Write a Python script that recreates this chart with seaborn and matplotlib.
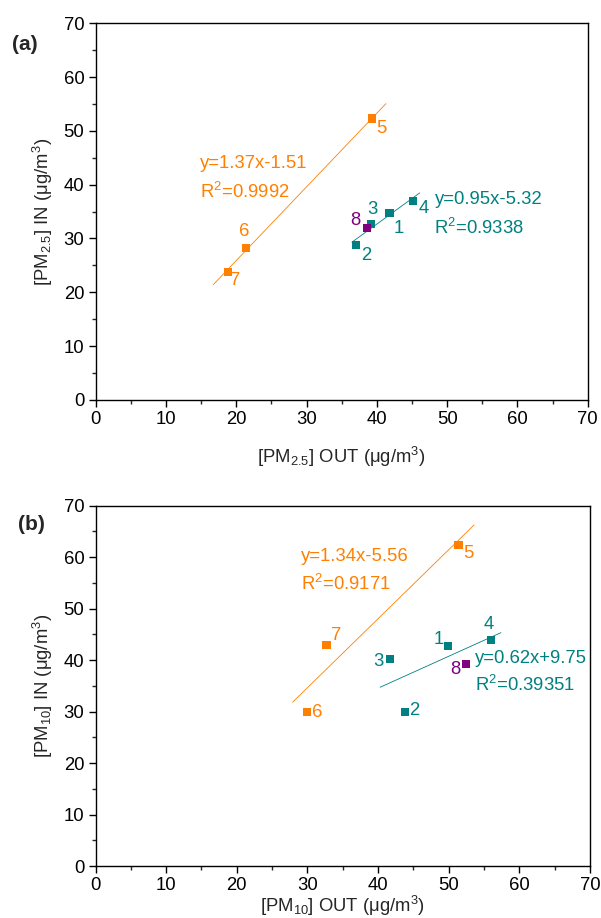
import numpy as np
import pandas as pd
import matplotlib
matplotlib.use("Agg")
import matplotlib.pyplot as plt
import seaborn as sns

# ---- data -------------------------------------------------------------
sites = ["1", "2", "3", "4", "5", "6", "7", "8"]
groups = ["A", "A", "A", "A", "B", "B", "B", "C"]

pm25_out = [41.8, 37.1, 39.2, 45.2, 39.3, 21.45, 18.8, 38.6]
pm25_in = [34.7, 28.75, 32.65, 36.9, 52.3, 28.2, 23.7, 31.9]

pm10_out = [49.9, 43.8, 41.7, 56.0, 51.4, 30.0, 32.7, 52.4]
pm10_in = [42.7, 30.0, 40.3, 44.0, 62.4, 30.0, 42.9, 39.25]

# linear fits (slope, intercept, R^2) and the x span each fit line covers
fit25_B = (1.37, -1.51, "0.9992")
fit25_A = (0.95, -5.32, "0.9338")
fit10_B = (1.34, -5.56, "0.9171")
fit10_A = (0.62, 9.75, "0.39351")
span25_B = [16.75, 41.3]
span25_A = [36.45, 46.1]
span10_B = [27.9, 53.6]
span10_A = [40.3, 57.4]

ticks = [0, 10, 20, 30, 40, 50, 60, 70]

# ---- style ------------------------------------------------------------
sns.set_theme(style="ticks")
plt.rcParams["font.family"] = ["Liberation Sans", "DejaVu Sans"]
plt.rcParams["mathtext.fontset"] = "custom"
plt.rcParams["mathtext.rm"] = "Liberation Sans"
plt.rcParams["mathtext.it"] = "Liberation Sans:italic"
plt.rcParams["mathtext.bf"] = "Liberation Sans:bold"

palette = {"A": "#008080", "B": "#FF8000", "C": "#800080"}
FS = 13.3

df25 = pd.DataFrame({"site": sites, "group": groups, "out": pm25_out, "inn": pm25_in})
df10 = pd.DataFrame({"site": sites, "group": groups, "out": pm10_out, "inn": pm10_in})

# label offsets (data units) for the site numbers
off25 = {"1": (1.3, -2.8), "2": (1.4, -1.95), "3": (0.2, 2.75), "4": (1.45, -1.3),
         "5": (1.4, -1.8), "6": (-0.35, 3.1), "7": (1.1, -1.5), "8": (-1.6, 1.4)}
off10 = {"1": (-1.25, 1.4), "2": (1.3, 0.2), "3": (-1.7, -0.6), "4": (-0.3, 3.0),
         "5": (1.4, -1.65), "6": (1.4, -0.2), "7": (1.35, 1.85), "8": (-1.5, -1.15)}

fig = plt.figure(figsize=(6.01, 9.18), dpi=100)
ax_a = fig.add_axes([0.159, 0.5644, 0.819, 0.4102])
ax_b = fig.add_axes([0.159, 0.0566, 0.8225, 0.3925])


def draw_panel(ax, df, fits, offsets, eq_pos, r2_gap, xlabel, ylabel, labelpad_x):
    for (slope, icpt, r2), span, grp in fits:
        xs = np.array(span)
        sns.lineplot(x=xs, y=slope * xs + icpt, ax=ax, color=palette[grp],
                     linewidth=0.6, legend=False)
    sns.scatterplot(data=df, x="out", y="inn", hue="group", palette=palette,
                    marker="s", s=34, linewidth=0, ax=ax, legend=False, zorder=3)
    for _, row in df.iterrows():
        dx, dy = offsets[row["site"]]
        ax.text(row["out"] + dx, row["inn"] + dy, row["site"], color=palette[row["group"]],
                fontsize=FS, ha="center", va="center")
    for ((slope, icpt, r2), span, grp), (ex, ey) in zip(fits, eq_pos):
        sign = "+" if icpt >= 0 else "-"
        ax.text(ex, ey, f"y={slope:.2f}x{sign}{abs(icpt):.2f}", color=palette[grp],
                fontsize=FS, ha="left", va="center")
        ax.text(ex, ey - r2_gap, f"R$^2$={r2}", color=palette[grp],
                fontsize=FS, ha="left", va="center")
    ax.set_xlim(0, 70)
    ax.set_ylim(0, 70)
    ax.set_xticks(ticks)
    ax.set_yticks(ticks)
    ax.set_xticks(np.arange(5, 70, 10), minor=True)
    ax.set_yticks(np.arange(5, 70, 10), minor=True)
    ax.tick_params(which="major", direction="out", length=5, width=1.0,
                   labelsize=FS, pad=3, colors="black", top=False, right=False)
    ax.tick_params(which="minor", direction="out", length=3, width=1.0,
                   top=False, right=False)
    for sp in ax.spines.values():
        sp.set_visible(True)
        sp.set_linewidth(1.0)
        sp.set_color("black")
    ax.set_xlabel(xlabel, fontsize=FS, labelpad=labelpad_x)
    ax.set_ylabel(ylabel, fontsize=FS, labelpad=6)


draw_panel(ax_a, df25,
           [(fit25_B, span25_B, "B"), (fit25_A, span25_A, "A")],
           off25, [(14.8, 44.0), (48.2, 37.2)], 5.3,
           r"[PM$_{2.5}$] OUT (μg/m$^3$)", r"[PM$_{2.5}$] IN (μg/m$^3$)", 12)
draw_panel(ax_b, df10,
           [(fit10_B, span10_B, "B"), (fit10_A, span10_A, "A")],
           off10, [(29.1, 60.1), (53.7, 40.35)], 5.2,
           r"[PM$_{10}$] OUT (μg/m$^3$)", r"[PM$_{10}$] IN (μg/m$^3$)", 0)

fig.text(0.042, 0.951, "(a)", fontsize=15, fontweight="bold", ha="center", va="center")
fig.text(0.053, 0.429, "(b)", fontsize=15, fontweight="bold", ha="center", va="center")

fig.savefig("out.png", dpi=100)
